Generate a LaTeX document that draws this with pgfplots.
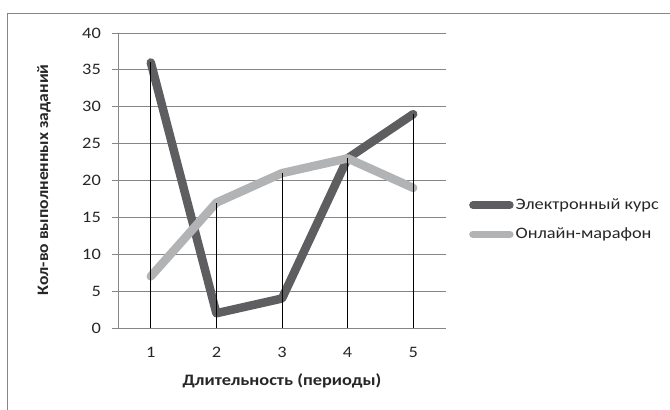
\documentclass[border=0pt]{standalone}
\usepackage{pgfplots}
\pgfplotsset{compat=1.18}
\usepackage{fontspec}
\setmainfont{Carlito}[FakeStretch=1.15]
\newfontfamily\rotfont{Carlito}[FakeStretch=1.1]
\definecolor{darkser}{HTML}{5E5E60}
\definecolor{lightser}{HTML}{B2B3B5}
\definecolor{gridc}{HTML}{868686}
\begin{document}
\begin{tikzpicture}[x=1bp,y=1bp]
\coordinate (O) at (118,81);
\draw[gridc, line width=1bp] (7,-10) rectangle (690,395);
\begin{axis}[
  at={(O)}, anchor=south west,
  scale only axis, width=328bp, height=295bp,
  xmin=0.5, xmax=5.5, ymin=0, ymax=40,
  xtick={1,2,3,4,5}, ytick={0,5,...,40},
  major x tick style={draw=none},
  ytick style={gridc, line width=0.8bp},
  tick align=outside, major tick length=6bp,
  ymajorgrids, grid style={gridc, line width=0.8bp},
  axis x line*=bottom, axis y line*=left,
  axis line style={gridc, line width=0.8bp, -},
  tick label style={font=\fontsize{16}{19}\selectfont, text=black!85},
  /pgf/number format/assume math mode=true,
  xticklabel style={anchor=center, inner sep=0pt, yshift=-18bp},
  yticklabel style={anchor=east, inner sep=0pt, xshift=-11bp},
  xlabel={\bfseries Длительность (периоды)},
  ylabel={\rotfont\bfseries Кол-во выполненных заданий},
  label style={font=\fontsize{16}{19}\selectfont, text=black!85},
  xlabel style={at={(rel axis cs:0.5,-0.18)}, anchor=center},
  ylabel style={at={(rel axis cs:-0.2256,0.502)}, anchor=center},
  clip=false,
  legend style={at={(rel axis cs:1.07,0.445)}, anchor=north west, draw=none, fill=none,
    font=\fontsize{16}{19}\selectfont, text=black!85,
    row sep=13bp, inner sep=0pt,
    /tikz/every even column/.append style={column sep=0pt}},
  legend cell align=left,
  legend image code/.code={\draw[#1, line width=7.5bp, line cap=round] (4bp,0bp) -- (41bp,0bp);},
]
\addplot[darkser, line width=8.5bp, line cap=round, line join=round]
  coordinates {(1,36) (2,2) (3,4) (4,23) (5,29)};
\addlegendentry{Электронный курс}
\addplot[lightser, line width=8.5bp, line cap=round, line join=round]
  coordinates {(1,7) (2,17) (3,21) (4,23) (5,19)};
\addlegendentry{Онлайн-марафон}
\addplot[black, line width=0.8bp, ycomb, forget plot]
  coordinates {(1,36) (2,17) (3,21) (4,23) (5,29)};
\end{axis}
\pgfresetboundingbox
\useasboundingbox (0,0) rectangle (670,409);
\end{tikzpicture}
\end{document}
